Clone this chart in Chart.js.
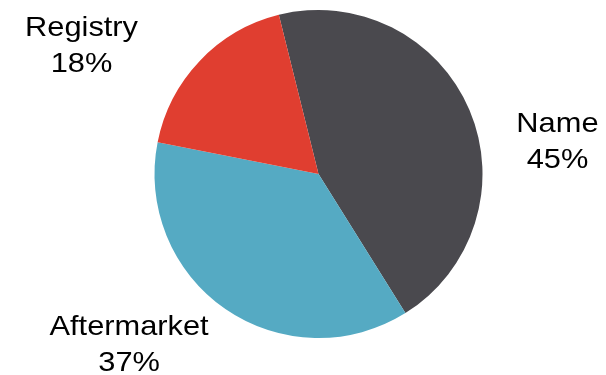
<!DOCTYPE html>
<html>
<head>
<meta charset="utf-8">
<script src="https://cdn.jsdelivr.net/npm/chart.js@4/dist/chart.umd.min.js"></script>
<style>
html,body{margin:0;padding:0;background:#fff;}
#wrap{width:606px;height:375px;}
</style>
</head>
<body>
<div id="wrap"><canvas id="c" width="606" height="375"></canvas></div>
<script>
const categories = ["Name", "Aftermarket", "Registry"];
const shares = [45, 37, 18];
const sliceColors = ["#4a494e", "#55aac3", "#e03e30"];

// label anchor offsets from pie centre, in units of radius (x, first baseline y)
const labelOffsets = [[1.457, -0.256], [-1.155, 0.982], [-1.445, -0.841]];

const labelPlugin = {
  id: 'outerLabels',
  afterDatasetsDraw(chart) {
    const ctx = chart.ctx;
    const meta = chart.getDatasetMeta(0);
    ctx.save();
    ctx.fillStyle = '#000';
    ctx.font = '28px "Liberation Sans", Arial, sans-serif';
    ctx.textAlign = 'center';
    ctx.textBaseline = 'alphabetic';
    meta.data.forEach((arc, i) => {
      const r = arc.outerRadius;
      const x = arc.x + labelOffsets[i][0] * r;
      const y = arc.y + labelOffsets[i][1] * r;
      const lines = [categories[i], shares[i] + '%'];
      lines.forEach((t, j) => {
        ctx.save();
        ctx.translate(x, y + j * 36);
        ctx.scale(1.1, 1);
        ctx.fillText(t, 0, 0);
        ctx.restore();
      });
    });
    ctx.restore();
  }
};

new Chart(document.getElementById('c'), {
  type: 'pie',
  data: {
    labels: categories,
    datasets: [{
      data: shares,
      backgroundColor: sliceColors,
      borderWidth: 0,
      hoverOffset: 0
    }]
  },
  options: {
    responsive: false,
    animation: false,
    rotation: -14,
    layout: { padding: { left: 154, right: 123, top: 10, bottom: 37 } },
    plugins: {
      legend: { display: false },
      tooltip: { enabled: false }
    }
  },
  plugins: [labelPlugin]
});
</script>
</body>
</html>
